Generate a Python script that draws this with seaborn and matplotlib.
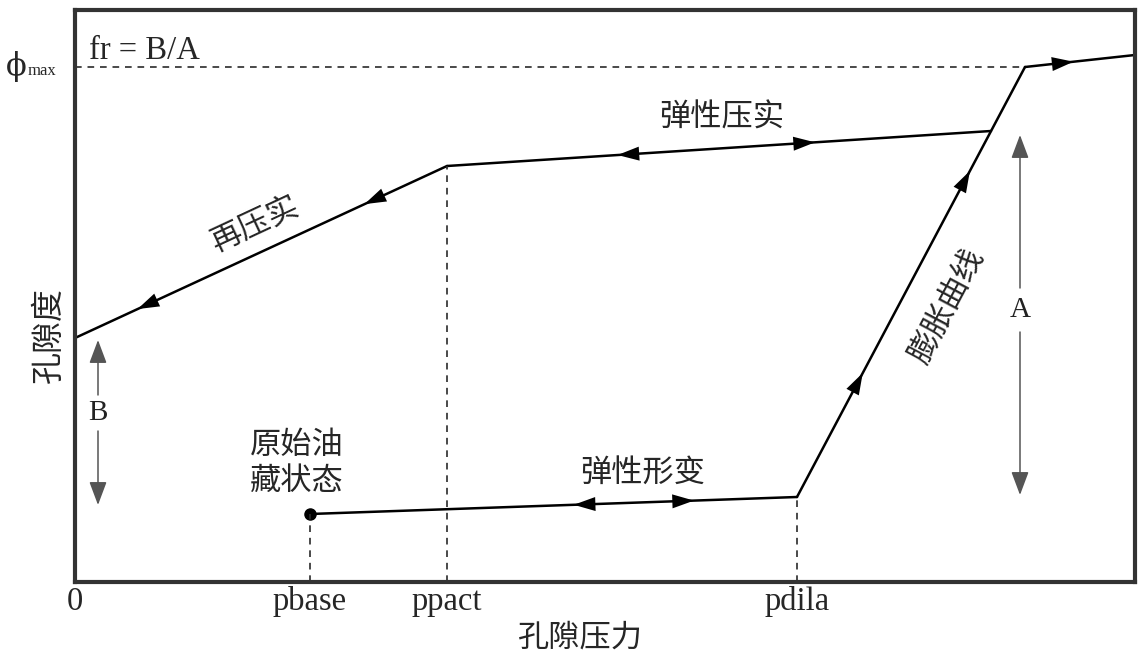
import numpy as np
import pandas as pd
import matplotlib
matplotlib.use("Agg")
import matplotlib.pyplot as plt
import seaborn as sns

sns.set_theme(style="white")
plt.rcParams['font.family'] = ['Noto Sans CJK SC', 'DejaVu Sans']

# ---- data (schematic units) ----
x_ticks = [0, 235, 372, 722]
x_tick_labels = ["0", "pbase", "ppact", "pdila"]
phi_max = 515
p_phimax = 950

# path segments (pressure, porosity)
recompact_x = [0, 372]
recompact_y = [244, 416]
elastic_comp_x = [372, 916]
elastic_comp_y = [416, 451]
elastic_def_x = [235, 722]
elastic_def_y = [68, 85]
expansion_x = [722, 950]
expansion_y = [85, 515]
beyond_x = [950, 1060]
beyond_y = [515, 527]

# arrow positions: (segment, fraction along, direction +1 forward/-1 backward)
arrow_specs = [
    ("recompact", 0.19, -1), ("recompact", 0.80, -1),
    ("elastic_comp", 0.33, -1), ("elastic_comp", 0.66, 1),
    ("elastic_def", 0.56, -1), ("elastic_def", 0.77, 1),
    ("expansion", 0.27, 1), ("expansion", 0.74, 1),
    ("beyond", 0.36, 1),
]

A_x, A_top, A_bot, A_label = 945, 447, 87, 272
B_x, B_top, B_bot, B_label = 23, 242, 77, 169

segments = {
    "recompact": (recompact_x, recompact_y),
    "elastic_comp": (elastic_comp_x, elastic_comp_y),
    "elastic_def": (elastic_def_x, elastic_def_y),
    "expansion": (expansion_x, expansion_y),
    "beyond": (beyond_x, beyond_y),
}

W, H = 1139, 653
fig = plt.figure(figsize=(W/100, H/100), dpi=100)
ax = fig.add_axes([75/W, 1-582/H, 1060/W, 572/H])
ax.set_xlim(0, 1060)
ax.set_ylim(0, 572)

for name, (xs, ys) in segments.items():
    df = pd.DataFrame({"p": xs, "phi": ys})
    sns.lineplot(data=df, x="p", y="phi", sort=False, color="black", lw=1.8, ax=ax)

# arrowheads
for name, frac, d in arrow_specs:
    xs, ys = segments[name]
    x0, y0 = xs[0], ys[0]
    x1, y1 = xs[1], ys[1]
    px = x0 + frac * (x1 - x0)
    py = y0 + frac * (y1 - y0)
    ux, uy = (x1 - x0), (y1 - y0)
    n = np.hypot(ux, uy)
    ux, uy = ux / n * d, uy / n * d
    ax.annotate("", xy=(px + ux * 9, py + uy * 9), xytext=(px - ux * 9, py - uy * 9),
                arrowprops=dict(arrowstyle="-|>,head_length=1.3,head_width=0.42",
                                color="black", lw=0, shrinkA=0, shrinkB=0))

# starting dot
ax.plot([elastic_def_x[0]], [elastic_def_y[0]], 'o', color='black', ms=8)

# dashed guides
dash = dict(color="#2a2a2a", lw=1.2, ls=(0, (4, 3.5)))
ax.plot([0, p_phimax], [phi_max, phi_max], **dash)
ax.plot([x_ticks[1], x_ticks[1]], [0, elastic_def_y[0]], **dash)
ax.plot([x_ticks[2], x_ticks[2]], [0, recompact_y[1]], **dash)
ax.plot([x_ticks[3], x_ticks[3]], [0, elastic_def_y[1]], **dash)

# A and B double arrows
def dbl_arrow(x, top, bot, lab, gap, txt):
    ap = dict(arrowstyle="-|>,head_length=1.2,head_width=0.45", color="#555555",
              lw=1.1, shrinkA=0, shrinkB=0)
    ax.annotate("", xy=(x, top), xytext=(x, lab + gap), arrowprops=ap)
    ax.annotate("", xy=(x, bot), xytext=(x, lab - gap), arrowprops=ap)
    ax.text(x, lab, txt, ha="center", va="center",
            fontsize=21, family="Liberation Serif", color="#222222")

dbl_arrow(A_x, A_top, A_bot, A_label, 22, "A")
dbl_arrow(B_x, B_top, B_bot, B_label, 18, "B")

# annotations
ax.text(14, 531, "fr = B/A", fontsize=23.5, family="Liberation Serif", va="center", ha="left")
ax.text(647, 464, "弹性压实", fontsize=22.5, ha="center", va="center")
ax.text(180, 357, "再压实", fontsize=22.5, ha="center", va="center", rotation=25)
ax.text(872, 276, "膨胀曲线", fontsize=22.5, ha="center", va="center", rotation=62)
ax.text(222, 119, "原始油\n藏状态", fontsize=22.5, ha="center", va="center", linespacing=1.15)
ax.text(568, 109, "弹性形变", fontsize=22.5, ha="center", va="center")

# axes styling
ax.set_xticks(x_ticks)
ax.set_xticklabels(x_tick_labels, family="Liberation Serif", fontsize=23.5)
ax.set_yticks([])
ax.tick_params(length=0, pad=3)
ax.set_xlabel("")
ax.set_ylabel("")

# phi_max label
fig.text(16/W, 1-67/H, "ϕ", fontsize=22, family=["DejaVu Serif"], ha="center", va="center")
fig.text(42/W, 1-71/H, "max", fontsize=12, family="Liberation Serif", ha="center", va="center")

# axis titles
fig.text(580/W, 1-638/H, "孔隙压力", fontsize=22.5, ha="center", va="center")
fig.text(49/W, 1-335/H, "孔隙度", fontsize=23, ha="center", va="center", rotation=90)

for s in ax.spines.values():
    s.set_visible(True)
    s.set_color("#333333")
    s.set_linewidth(3)
ax.set_facecolor("white")
fig.patch.set_facecolor("white")

fig.savefig("out.png", dpi=100)
